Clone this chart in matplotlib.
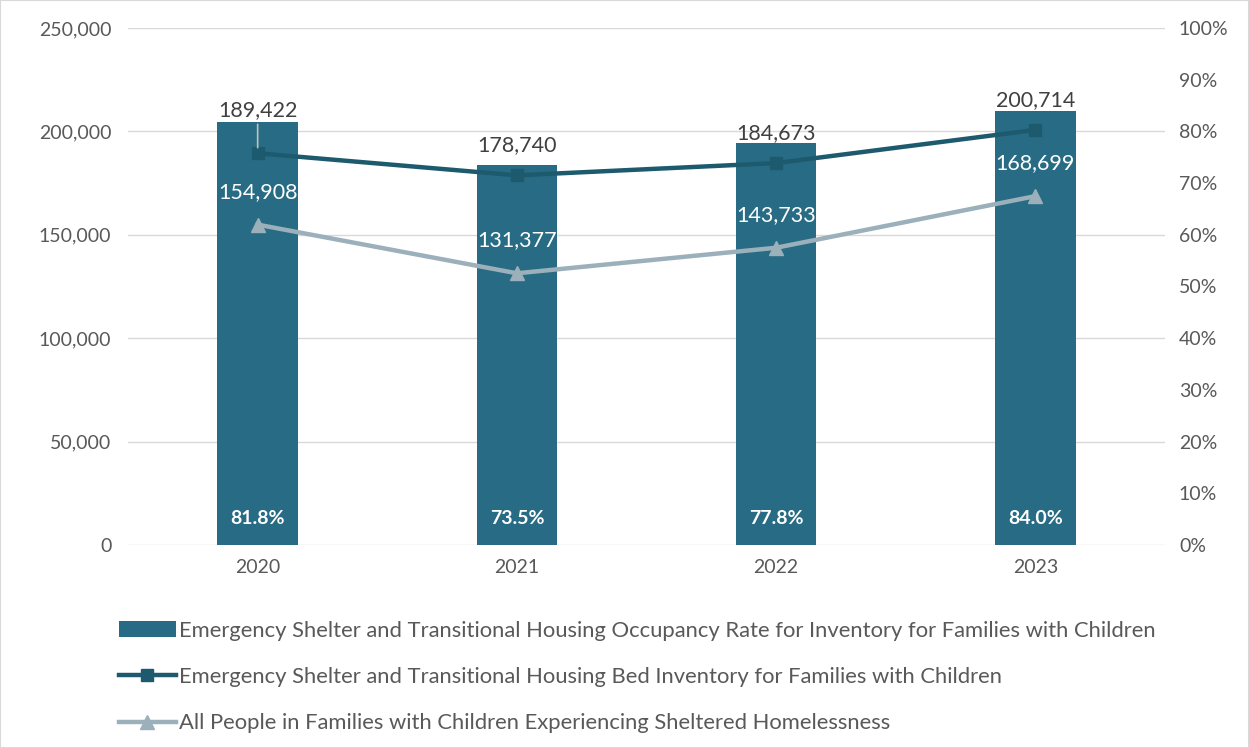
import matplotlib.pyplot as plt
import matplotlib.ticker as mticker
import numpy as np

plt.rcParams['font.family'] = ['Lato', 'DejaVu Sans']

years = ['2020', '2021', '2022', '2023']
occupancy_rate = [81.8, 73.5, 77.8, 84.0]
bed_inventory = [189422, 178740, 184673, 200714]
people_sheltered = [154908, 131377, 143733, 168699]

bar_color = '#276c84'
dark_color = '#1d5a6e'
light_color = '#9bb0ba'
text_color = '#595959'

fig = plt.figure(figsize=(12.49, 7.48), dpi=100)
ax = fig.add_axes([0.1025, 0.2714, 0.8303, 0.6912])
ax2 = ax.twinx()

x = np.arange(len(years))

# bars on the percent axis
bars = ax2.bar(x, occupancy_rate, width=0.31, color=bar_color, zorder=1,
               label='Emergency Shelter and Transitional Housing Occupancy Rate for Inventory for Families with Children')
ax2.set_ylim(0, 100)
ax2.yaxis.set_major_locator(mticker.MultipleLocator(10))
ax2.yaxis.set_major_formatter(mticker.FuncFormatter(lambda v, p: f'{v:.0f}%'))

# lines on the count axis, drawn on top of bars
ax.set_zorder(ax2.get_zorder() + 1)
ax.patch.set_visible(False)
l1, = ax.plot(x, bed_inventory, color=dark_color, lw=3.2, marker='s', ms=9, zorder=3,
              label='Emergency Shelter and Transitional Housing Bed Inventory for Families with Children')
l2, = ax.plot(x, people_sheltered, color=light_color, lw=3.2, marker='^', ms=10, zorder=3,
              label='All People in Families with Children Experiencing Sheltered Homelessness')
ax.set_ylim(0, 250000)
ax.set_xlim(-0.5, 3.5)
ax.yaxis.set_major_locator(mticker.MultipleLocator(50000))
ax.yaxis.set_major_formatter(mticker.FuncFormatter(lambda v, p: f'{v:,.0f}'))
ax.set_xticks(x)
ax.set_xticklabels(years)

# gridlines behind everything, drawn on the bar axis
for v in range(0, 250001, 50000):
    ax2.axhline(v / 2500, color='#d9d9d9', lw=1, zorder=0)

for a in (ax, ax2):
    for s in a.spines.values():
        s.set_visible(False)
    a.tick_params(length=0, labelsize=14, labelcolor=text_color)
ax.tick_params(axis='x', pad=10)
ax.tick_params(axis='y', pad=12)
ax2.tick_params(axis='y', pad=10)

# value labels
for i, v in enumerate(bed_inventory):
    off = 43 if i == 0 else 30
    ax.annotate(f'{v:,}', (x[i], v), xytext=(0, off), textcoords='offset pixels',
                ha='center', va='center', fontsize=15.5, color='#404040', zorder=5)
ax.annotate('', (x[0], bed_inventory[0]), xytext=(0, 29), textcoords='offset pixels',
            arrowprops=dict(arrowstyle='-', color='#bfbfbf', lw=1.2, shrinkA=0, shrinkB=4))
for i, v in enumerate(people_sheltered):
    ax.annotate(f'{v:,}', (x[i], v), xytext=(0, 33), textcoords='offset pixels',
                ha='center', va='center', fontsize=15.5, color='white', zorder=5)
for i, v in enumerate(occupancy_rate):
    ax2.text(x[i], 5.2, f'{v:.1f}%', ha='center', va='center', fontsize=14,
             color='white', fontweight='bold')

fig.legend([bars, l1, l2], [bars.get_label(), l1.get_label(), l2.get_label()],
           loc='upper left', bbox_to_anchor=(0.088, 0.182), frameon=False,
           fontsize=15.8, labelcolor=text_color, handlelength=2.6, handletextpad=0.15,
           labelspacing=1.2, borderaxespad=0)

fig.patches.append(plt.Rectangle((0, 0), 1, 1, transform=fig.transFigure,
                                 fill=False, edgecolor='#d9d9d9', lw=1.5))

fig.savefig('out.png', dpi=100)
